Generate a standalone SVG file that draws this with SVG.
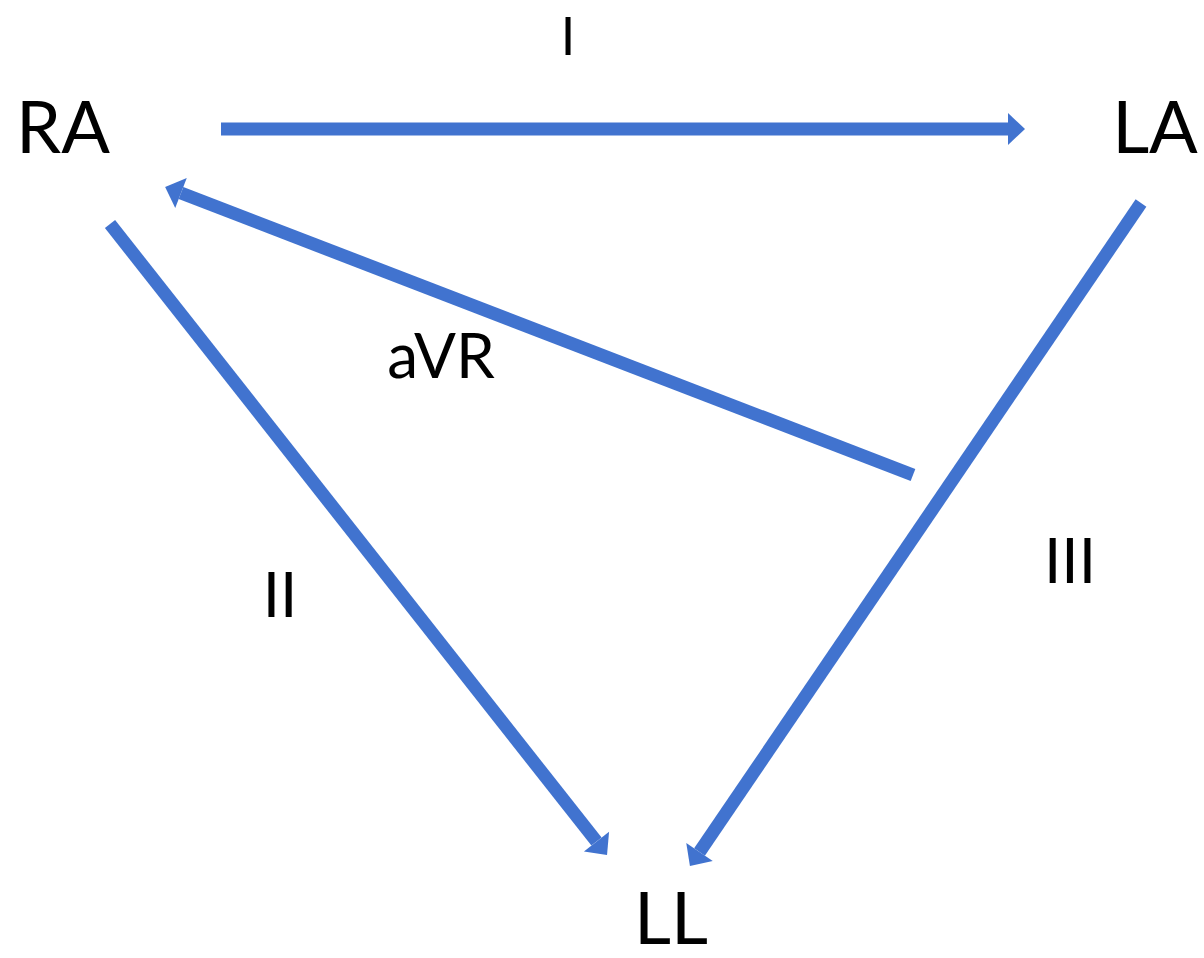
<svg xmlns="http://www.w3.org/2000/svg" width="1204" height="958" viewBox="0 0 1204 958">
<style>
.lead{fill:#000;font-family:Lato,"Open Sans","Liberation Sans",sans-serif;text-anchor:middle}
.big{font-size:72px}
.lbl{font-size:62px}
.conn{stroke:#4173CF;stroke-width:13;fill:none;stroke-linecap:butt;marker-end:url(#ah)}
</style>
<defs>
<marker id="ah" markerUnits="userSpaceOnUse" markerWidth="18" markerHeight="34" refX="0" refY="16" orient="auto" overflow="visible">
<path d="M0,0 L17,16 L0,32 Z" fill="#4173CF"/>
</marker>
</defs>
<rect width="1204" height="958" fill="#fff"/>
<g id="connectors">
<line id="lead-I" class="conn" x1="221" y1="129" x2="1008" y2="129"/>
<line id="lead-aVR" class="conn" x1="913" y1="475" x2="181" y2="193"/>
<line id="lead-II" class="conn" x1="110" y1="224" x2="596.5" y2="841.6"/>
<line id="lead-III" class="conn" x1="1141" y1="203" x2="699.5" y2="852"/>
</g>
<g id="RA"><text class="lead big" x="63" y="153">RA</text></g>
<g id="LA"><text class="lead big" x="1155" y="153">LA</text></g>
<g id="LL"><text class="lead big" x="671" y="944">LL</text></g>
<g id="label-I"><text class="lead lbl" x="568" y="55" style="font-size:52px">I</text></g>
<g id="label-aVR"><text class="lead lbl" x="441" y="378">aVR</text></g>
<g id="label-II"><text class="lead lbl" x="280" y="617">II</text></g>
<g id="label-III"><text class="lead lbl" x="1070" y="583">III</text></g>
</svg>
